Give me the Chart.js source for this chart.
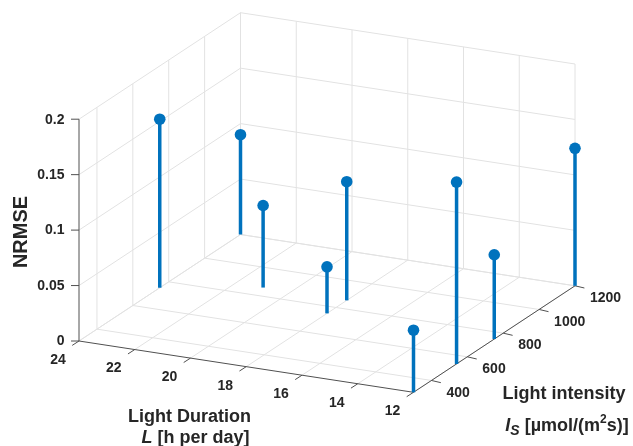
<!DOCTYPE html>
<html>
<head>
<meta charset="utf-8">
<script src="https://cdn.jsdelivr.net/npm/chart.js@4.4.1/dist/chart.umd.min.js"></script>
<style>
  html, body { margin: 0; padding: 0; background: #ffffff; }
  canvas { display: block; }
</style>
</head>
<body>
<canvas id="chart" width="633" height="446"></canvas>
<script>
// Stem data: light duration L [h per day], light intensity I_S [umol/(m^2 s)], NRMSE
const lightDuration  = [24, 24, 21, 18, 18, 12, 12, 12, 12];
const lightIntensity = [750, 1200, 860, 750, 860, 540, 750, 1200, 300];
const nrmse          = [0.152, 0.090, 0.074, 0.042, 0.107, 0.164, 0.076, 0.124, 0.056];

// Tick values of the three axes
const durationTicks  = [24, 22, 20, 18, 16, 14, 12];
const intensityTicks = [400, 600, 800, 1000, 1200];
const nrmseTicks     = [0, 0.05, 0.1, 0.15, 0.2];

// Axis limits
const durationRange  = [12, 24];
const intensityRange = [300, 1200];
const nrmseRange     = [0, 0.2];

// Orthographic view of the 3-D box onto the plane of the two hidden linear scales
const view = {
  origin: [79, 341],        // corner L = 24, I = 300, NRMSE = 0
  alongL: [334.5, 51.3],    // whole L span (24 -> 12)
  alongI: [161.5, -106.5],  // whole I span (300 -> 1200)
  alongZ: [0, -221.8]       // whole NRMSE span (0 -> 0.2)
};

function project(L, I, z) {
  const a = (durationRange[1] - L) / (durationRange[1] - durationRange[0]);
  const b = (I - intensityRange[0]) / (intensityRange[1] - intensityRange[0]);
  const c = (z - nrmseRange[0]) / (nrmseRange[1] - nrmseRange[0]);
  return {
    x: view.origin[0] + a * view.alongL[0] + b * view.alongI[0] + c * view.alongZ[0],
    y: view.origin[1] + a * view.alongL[1] + b * view.alongI[1] + c * view.alongZ[1]
  };
}
function shift(p, dx, dy) { return { x: p.x + dx, y: p.y + dy }; }

const STEM_BLUE = '#0072BD';
const GRID = '#e2e2e2';
const AXIS = '#505050';
const TEXT = '#262626';
const FONT = '"Liberation Sans", Arial, Helvetica, sans-serif';

const [Lmin, Lmax] = durationRange;
const [Imin, Imax] = intensityRange;
const [Zmin, Zmax] = nrmseRange;

function segment(points, color, width, order) {
  return {
    data: points, showLine: true, borderColor: color, borderWidth: width,
    pointRadius: 0, pointHoverRadius: 0, fill: false, tension: 0,
    borderCapStyle: 'butt', order: order, clip: false
  };
}

const datasets = [];

// Grid: floor, left wall (L = 24) and back wall (I = 1200)
durationTicks.forEach(L => datasets.push(segment([project(L, Imin, Zmin), project(L, Imax, Zmin)], GRID, 1, 4)));
intensityTicks.forEach(I => datasets.push(segment([project(Lmax, I, Zmin), project(Lmin, I, Zmin)], GRID, 1, 4)));
intensityTicks.forEach(I => datasets.push(segment([project(Lmax, I, Zmin), project(Lmax, I, Zmax)], GRID, 1, 4)));
nrmseTicks.forEach(z => datasets.push(segment([project(Lmax, Imin, z), project(Lmax, Imax, z)], GRID, 1, 4)));
durationTicks.forEach(L => datasets.push(segment([project(L, Imax, Zmin), project(L, Imax, Zmax)], GRID, 1, 4)));
nrmseTicks.forEach(z => datasets.push(segment([project(Lmax, Imax, z), project(Lmin, Imax, z)], GRID, 1, 4)));

// Axis lines
datasets.push(segment([project(Lmax, Imin, Zmin), project(Lmax, Imin, Zmax)], AXIS, 1, 3));
datasets.push(segment([project(Lmax, Imin, Zmin), project(Lmin, Imin, Zmin)], AXIS, 1, 3));
datasets.push(segment([project(Lmin, Imin, Zmin), project(Lmin, Imax, Zmin)], AXIS, 1, 3));

// Tick marks
nrmseTicks.forEach(z => { const p = project(Lmax, Imin, z); datasets.push(segment([p, shift(p, -8, 0)], AXIS, 1, 3)); });
durationTicks.forEach(L => { const p = project(L, Imin, Zmin); datasets.push(segment([p, shift(p, -6.8, 4.4)], AXIS, 1, 3)); });
intensityTicks.forEach(I => { const p = project(Lmin, I, Zmin); datasets.push(segment([p, shift(p, 9.4, 2.2)], AXIS, 1, 3)); });

// Stems
lightDuration.forEach((L, i) => {
  datasets.push(segment([project(L, lightIntensity[i], Zmin), project(L, lightIntensity[i], nrmse[i])], STEM_BLUE, 3.5, 1));
});

// Stem heads
datasets.push({
  data: lightDuration.map((L, i) => project(L, lightIntensity[i], nrmse[i])),
  showLine: false, pointRadius: 5.8, pointHoverRadius: 5.8, pointStyle: 'circle',
  backgroundColor: STEM_BLUE, borderColor: STEM_BLUE, borderWidth: 0, order: 0, clip: false
});

// Draw a line of mixed-style text runs centred on cx
function drawRuns(ctx, runs, cx, baseline) {
  let total = 0;
  runs.forEach(r => { ctx.font = r.font; r.w = ctx.measureText(r.text).width; total += r.w; });
  let x = cx - total / 2;
  ctx.textAlign = 'left';
  ctx.textBaseline = 'alphabetic';
  runs.forEach(r => { ctx.font = r.font; ctx.fillText(r.text, x, baseline + (r.dy || 0)); x += r.w; });
}

const labelPlugin = {
  id: 'axisText',
  afterDraw(chart) {
    const ctx = chart.ctx;
    const sx = chart.scales.x, sy = chart.scales.y;
    const px = p => ({ x: sx.getPixelForValue(p.x), y: sy.getPixelForValue(p.y) });
    ctx.save();
    ctx.fillStyle = TEXT;

    // Tick labels
    ctx.font = 'bold 14px ' + FONT;
    ctx.textBaseline = 'middle';
    ctx.textAlign = 'right';
    nrmseTicks.forEach(z => { const p = px(project(Lmax, Imin, z)); ctx.fillText(String(z), p.x - 14.5, p.y + 0.5); });
    ctx.textAlign = 'center';
    durationTicks.forEach(L => { const p = px(project(L, Imin, Zmin)); ctx.fillText(String(L), p.x - 21, p.y + 19); });
    ctx.textAlign = 'left';
    intensityTicks.forEach(I => { const p = px(project(Lmin, I, Zmin)); ctx.fillText(String(I), p.x + 15, p.y + 12.5); });

    // Axis titles
    ctx.save();
    ctx.translate(26.7, 232);
    ctx.rotate(-Math.PI / 2);
    ctx.font = 'bold 20px ' + FONT;
    ctx.textAlign = 'center';
    ctx.textBaseline = 'alphabetic';
    ctx.fillText('NRMSE', 0, 0);
    ctx.restore();

    const B18 = 'bold 18px ' + FONT, I18 = 'italic bold 18px ' + FONT;
    drawRuns(ctx, [{ text: 'Light Duration', font: B18 }], 189.5, 421.7);
    drawRuns(ctx, [{ text: 'L', font: I18 }, { text: ' [h per day]', font: B18 }], 195.4, 442.7);
    drawRuns(ctx, [{ text: 'Light intensity', font: B18 }], 564, 399.3);
    drawRuns(ctx, [
      { text: 'I', font: I18 },
      { text: 'S', font: 'italic bold 14px ' + FONT, dy: 4.5 },
      { text: ' [\u00b5mol/(m', font: B18 },
      { text: '2', font: 'bold 12px ' + FONT, dy: -8 },
      { text: 's)]', font: B18 }
    ], 567, 430.7);
    ctx.restore();
  }
};

new Chart(document.getElementById('chart').getContext('2d'), {
  type: 'scatter',
  data: { datasets },
  options: {
    responsive: false,
    animation: false,
    devicePixelRatio: 1,
    events: [],
    layout: { padding: 0, autoPadding: false },
    plugins: { legend: { display: false }, tooltip: { enabled: false } },
    scales: {
      x: { type: 'linear', min: 0, max: 633, display: false },
      y: { type: 'linear', min: 0, max: 446, reverse: true, display: false }
    }
  },
  plugins: [labelPlugin]
});
</script>
</body>
</html>
